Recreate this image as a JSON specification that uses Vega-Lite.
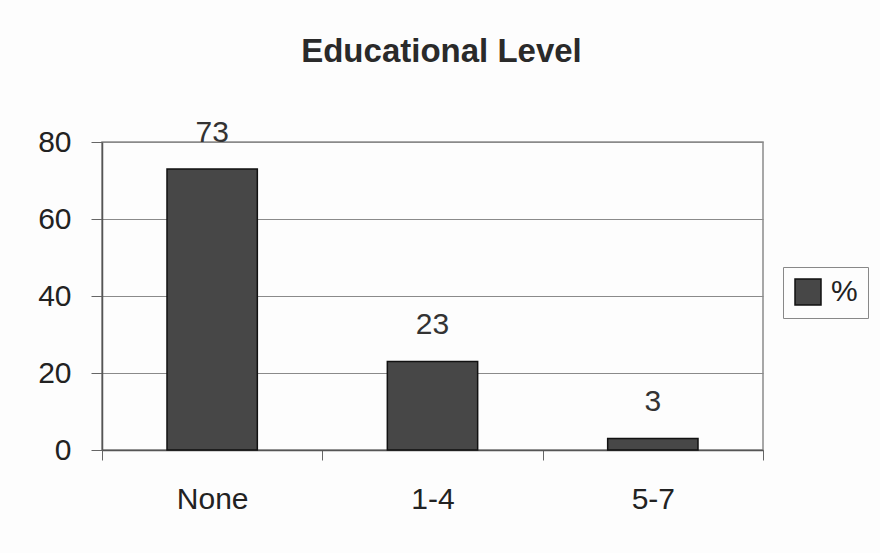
{
  "$schema": "https://vega.github.io/schema/vega-lite/v6.json",
  "autosize": "none",
  "width": 661,
  "height": 308,
  "padding": {"left": 102, "top": 142, "right": 117, "bottom": 103},
  "background": "#fdfdfd",
  "config": {
    "font": "Liberation Sans",
    "view": {"stroke": "#8a8a8a", "strokeWidth": 1.5}
  },
  "title": {
    "text": "Educational Level",
    "fontSize": 33,
    "fontWeight": "bold",
    "color": "#2a2a2a",
    "anchor": "middle",
    "dx": 9,
    "offset": 49
  },
  "data": {
    "values": [
      {"level": "None", "pct": 73, "series": "%"},
      {"level": "1-4", "pct": 23, "series": "%"},
      {"level": "5-7", "pct": 3, "series": "%"}
    ]
  },
  "encoding": {
    "x": {
      "field": "level",
      "type": "nominal",
      "sort": ["None", "1-4", "5-7"],
      "scale": {"paddingInner": 0, "paddingOuter": 0},
      "axis": {
        "title": null,
        "labelAngle": 0,
        "labelFontSize": 30,
        "labelColor": "#222",
        "labelPadding": 24,
        "tickBand": "extent",
        "tickSize": 10,
        "tickColor": "#666",
        "domainColor": "#555",
        "domainWidth": 1.5
      }
    },
    "y": {
      "field": "pct",
      "type": "quantitative",
      "scale": {"domain": [0, 80]},
      "axis": {
        "title": null,
        "values": [0, 20, 40, 60, 80],
        "labelFontSize": 30,
        "labelColor": "#222",
        "labelPadding": 20,
        "tickSize": 11,
        "tickColor": "#666",
        "domainColor": "#555",
        "domainWidth": 1.5,
        "gridColor": "#8a8a8a",
        "gridWidth": 1.2
      }
    }
  },
  "layer": [
    {
      "mark": {"type": "bar", "stroke": "#111", "strokeWidth": 1.5, "width": {"band": 0.41}},
      "encoding": {
        "color": {
          "field": "series",
          "type": "nominal",
          "scale": {"range": ["#474747"]},
          "legend": {
            "title": null,
            "orient": "none",
            "legendX": 681,
            "legendY": 125,
            "strokeColor": "#888",
            "padding": 10,
            "symbolType": "square",
            "symbolSize": 676,
            "symbolStrokeColor": "#111",
            "symbolStrokeWidth": 1.5,
            "labelFontSize": 30,
            "labelColor": "#222",
            "labelOffset": 8
          }
        }
      }
    },
    {
      "mark": {"type": "text", "baseline": "bottom", "dy": -21, "fontSize": 30, "color": "#333"},
      "encoding": {"text": {"field": "pct", "type": "quantitative"}}
    }
  ]
}
